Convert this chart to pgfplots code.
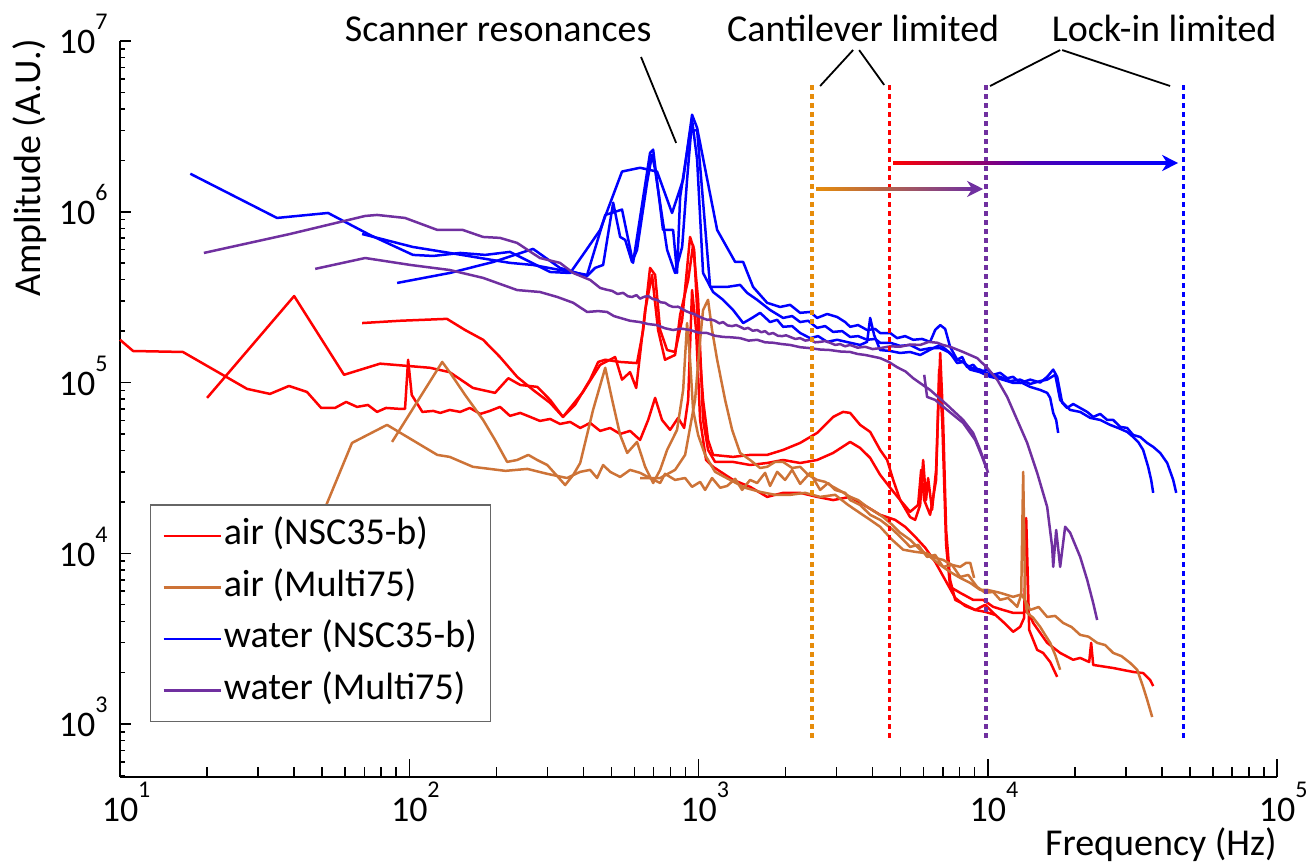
\documentclass[border=0pt]{standalone}
\usepackage{fontspec}
\setmainfont{Carlito}
\usepackage{pgfplots}
\pgfplotsset{compat=1.18}
\usetikzlibrary{arrows.meta}

\definecolor{airred}{RGB}{255,0,0}
\definecolor{airmulti}{RGB}{205,115,55}
\definecolor{wblue}{RGB}{0,0,255}
\definecolor{wpurple}{RGB}{112,48,160}
\definecolor{dotorange}{RGB}{230,140,10}

\newcommand\lbl{\fontsize{19bp}{22bp}\selectfont}
\newcommand\tkf{\fontsize{18bp}{20bp}\selectfont}
\newcommand\ex[1]{\raisebox{12bp}{\fontsize{12bp}{12bp}\selectfont #1}}

\begin{document}
\begin{tikzpicture}
\begin{axis}[
  name=ax, at={(0,0)}, anchor=south west,
  scale only axis, width=578.5bp, height=368bp,
  xmode=log, ymode=log,
  xmin=10, xmax=1e5, ymin=490, ymax=1e7,
  axis x line*=bottom, axis y line*=left,
  axis line style={line width=1bp, black},
  tick align=inside,
  tick style={line width=0.75bp, black},
  xtick style={/pgfplots/major tick length=9bp, /pgfplots/minor tick length=5bp},
  ytick style={/pgfplots/major tick length=5.5bp, /pgfplots/minor tick length=2.5bp},
  xtick={10,100,1000,10000,100000},
  xticklabels={{10\rlap{\ex{1}}},{10\rlap{\ex{2}}},{10\rlap{\ex{3}}},{10\rlap{\ex{4}}},{10\rlap{\ex{5}}}},
  minor xtick={20,30,40,50,60,70,80,90,200,300,400,500,600,700,800,900,2000,3000,4000,5000,6000,7000,8000,9000,20000,30000,40000,50000,60000,70000,80000,90000},
  ytick={1000,10000,100000,1000000,10000000},
  yticklabels={{10\ex{3}},{10\ex{4}},{10\ex{5}},{10\ex{6}},{10\ex{7}}},
  minor ytick={500,600,700,800,900,2000,3000,4000,5000,6000,7000,8000,9000,20000,30000,40000,50000,60000,70000,80000,90000,200000,300000,400000,500000,600000,700000,800000,900000,2000000,3000000,4000000,5000000,6000000,7000000,8000000,9000000},
  xticklabel style={font=\tkf, anchor=base, inner sep=0pt, yshift=-22.5bp},
  yticklabel style={font=\tkf, anchor=base east, inner sep=0pt, xshift=-6bp, yshift=-6.4bp},
  clip=false,
  legend cell align=left,
  legend image code/.code={\draw[#1, line width=1.1bp] (0bp,0bp) -- (28.5bp,0bp);},
  legend style={at={(rel axis cs:0.0259,0.0747)}, anchor=south west,
    draw=black!60, line width=0.6bp, fill=white, font=\lbl,
    inner sep=6bp, row sep=6.75bp,
    nodes={inner sep=1bp, text height=13bp, text depth=4bp}},
  dat/.style={line width=1.25bp, line join=round, forget plot},
]
\addlegendimage{airred}\addlegendentry{air (NSC35-b)}
\addlegendimage{airmulti}\addlegendentry{air (Multi75)}
\addlegendimage{wblue}\addlegendentry{water (NSC35-b)}
\addlegendimage{wpurple}\addlegendentry{water (Multi75)}

% ---- air NSC35-b
\addplot[dat, airred] coordinates {
(10,1.78e5)(11.1,1.53e5)(16.5,1.51e5)(27.5,9.18e4)(33,8.58e4)(38.4,9.55e4)(44.3,8.81e4)(49.6,7.1e4)(55.4,7.1e4)(60.5,7.7e4)(66,7.2e4)(72,7.39e4)(77.4,6.73e4)(83.1,7.1e4)(92.9,7.01e4)(96.7,7.01e4)(99.1,1.36e5)(102,8.46e4)(111,6.73e4)(121,6.82e4)(128,6.64e4)(138,6.91e4)(150,6.73e4)(162,7.1e4)(176,6.55e4)(190,6.82e4)(206,7.2e4)(223,6.38e4)(242,6.64e4)(262,6.29e4)(283,5.96e4)(307,6.12e4)(332,5.72e4)(360,5.88e4)(390,5.42e4)(422,5.8e4)(457,5.21e4)(495,5.42e4)(536,5.0e4)(580,5.21e4)(628,4.61e4)(670,6.04e4)(708,8.13e4)(748,6.04e4)(798,5.28e4)(850,6.21e4)(892,5.42e4)(921,7.91e4)(950,3.48e5)(981,2.03e5)(1013,6.04e4)(1062,3.52e4)(1123,3.21e4)(1317,2.69e4)(1508,2.45e4)(1727,2.14e4)(1961,2.26e4)(2246,2.26e4)(2571,2.14e4)(2920,2.05e4)(3344,2.14e4)(3828,1.87e4)(4246,1.68e4)(4784,1.57e4)(5180,1.43e4)(5610,1.25e4)(6075,1.08e4)(6580,8.91e3)(7125,6.99e3)(7720,5.48e3)(8350,4.92e3)(9050,4.66e3)(9800,4.54e3)(10610,4.36e3)
};
\addplot[dat, airred] coordinates {
(20,8.13e4)(40,3.21e5)(59.5,1.11e5)(79.3,1.29e5)(118,1.22e5)(138,1.15e5)(166,9.3e4)(198,8.7e4)(220,1.06e5)(242,9.68e4)(277,9.43e4)(307,7.91e4)(340,6.29e4)(399,8.81e4)(457,1.27e5)(515,1.41e5)(544,1.04e5)(580,1.15e5)(609,9.3e4)(654,2.66e5)(691,4.27e5)(725,2.03e5)(766,1.36e5)(830,1.45e5)(864,2.49e5)(921,3.99e5)(958,6.39e5)(997,3.05e5)(1037,6.04e4)(1079,4.03e4)(1141,3.43e4)(1317,3.43e4)(1508,3.29e4)(1727,3.38e4)(1961,3.52e4)(2246,3.38e4)(2571,3.52e4)(2920,3.87e4)(3344,4.49e4)(3621,4.14e4)(3922,3.62e4)(4246,2.88e4)(4600,2.42e4)(4980,2.05e4)(5390,1.75e4)(5745,1.92e4)(5885,3.08e4)(6030,2.05e4)(6320,1.68e4)(6630,2.69e4)(6790,1.19e5)(6960,6.04e4)(7180,1.12e4)(7410,6.36e3)(8030,5.87e3)(8900,5.34e3)(9640,5.34e3)(10440,4.86e3)(11300,4.66e3)(12240,4.48e3)(13260,4.48e3)(13690,4.66e3)(14360,3.91e3)(16050,2.99e3)(17800,2.61e3)(19740,2.38e3)(20870,2.44e3)(22420,2.31e3)(22780,2.99e3)(23150,2.22e3)(27140,2.13e3)(31830,2.02e3)(34460,1.99e3)(36440,1.81e3)(37330,1.67e3)
};
\addplot[dat, airred] coordinates {
(68.7,2.23e5)(92.9,2.30e5)(135,2.36e5)(156,2.03e5)(180,1.78e5)(206,1.41e5)(236,1.08e5)(268,9.05e4)(307,7.6e4)(340,6.29e4)(374,7.39e4)(422,1.04e5)(450,1.32e5)(476,1.36e5)(536,1.32e5)(613,1.30e5)(644,2.03e5)(680,4.69e5)(708,4.27e5)(737,2.03e5)(779,1.55e5)(830,1.51e5)(878,2.33e5)(935,7.12e5)(966,5.98e5)(997,2.03e5)(1037,7.91e4)(1079,4.61e4)(1123,3.77e4)(1317,3.67e4)(1508,3.77e4)(1727,3.77e4)(1961,4.03e4)(2246,4.43e4)(2571,5.07e4)(2920,6.29e4)(3162,6.73e4)(3344,6.64e4)(3621,5.65e4)(3922,5.14e4)(4246,4.03e4)(4490,3.52e4)(4710,2.69e4)(4980,2.05e4)(5390,1.63e4)(5610,1.57e4)(5840,1.92e4)(5980,3.52e4)(6120,2.05e4)(6220,2.76e4)(6420,1.8e4)(6630,3.08e4)(6850,1.49e5)(7010,6.04e4)(7180,1.37e4)(7410,6.99e3)(7720,5.34e3)(8350,4.99e3)(9050,4.66e3)(9800,4.99e3)(10440,4.48e3)(11300,3.97e3)(12240,3.47e3)(12940,3.71e3)(13360,4.19e3)(13580,1.61e4)(13910,3.56e3)(14820,2.72e3)(15540,2.61e3)(16440,2.31e3)(17380,1.89e3)
};

% ---- air Multi75
\addplot[dat, airmulti] coordinates {
(48.4,1.47e4)(52,1.97e4)(63.4,4.43e4)(83.8,5.65e4)(125,3.77e4)(138,3.67e4)(166,3.21e4)(215,3.04e4)(256,3.12e4)(300,2.92e4)(351,2.76e4)(390,3.0e4)(422,3.08e4)(446,2.76e4)(468,3.29e4)(495,3.0e4)(536,2.8e4)(580,3.08e4)(628,2.96e4)(680,2.76e4)(737,2.58e4)(766,2.92e4)(830,2.69e4)(899,2.76e4)(950,2.45e4)(1013,2.62e4)(1054,2.35e4)(1114,2.76e4)(1188,2.42e4)(1256,2.48e4)(1339,2.73e4)(1415,2.35e4)(1508,2.69e4)(1595,2.58e4)(1699,2.96e4)(1768,2.48e4)(1870,3.0e4)(1993,2.69e4)(2107,3.08e4)(2246,2.55e4)(2432,2.96e4)(2633,2.35e4)(2806,2.58e4)(2968,2.35e4)(3214,2.26e4)(3344,2.05e4)(3621,1.92e4)(3922,1.68e4)(4246,1.57e4)(4710,1.37e4)(5100,1.20e4)(5390,1.09e4)(5745,1.12e4)(6170,9.53e3)(6580,9.79e3)(7010,8.33e3)(7530,8.55e3)(8030,7.27e3)(8560,7.47e3)(9190,6.36e3)(9800,5.87e3)(10440,5.94e3)(11040,5.34e3)(11760,5.48e3)(12640,4.86e3)(13050,5.71e3)(13260,3.0e4)(13470,5.34e3)(13690,4.48e3)(14360,4.19e3)(15180,3.71e3)(15790,3.33e3)(16440,2.99e3)(17110,2.54e3)(17800,2.08e3)
};
\addplot[dat, airmulti] coordinates {
(87.2,4.49e4)(130,1.32e5)(138,1.15e5)(156,8.46e4)(180,6.04e4)(198,4.61e4)(218,3.43e4)(236,3.52e4)(258,3.77e4)(277,3.52e4)(300,3.29e4)(322,2.88e4)(346,2.51e4)(369,2.88e4)(390,3.38e4)(432,6.91e4)(476,1.22e5)(503,7.91e4)(536,4.93e4)(567,3.87e4)(613,4.49e4)(654,3.21e4)(697,2.58e4)(737,3.08e4)(779,4.03e4)(843,5.28e4)(885,9.05e4)(913,2.23e5)(935,1.36e5)(958,6.91e4)(997,4.93e4)(1054,3.77e4)(1141,3.0e4)(1286,2.69e4)(1449,2.42e4)(1633,2.29e4)(1840,2.20e4)(2074,2.20e4)(2337,2.26e4)(2633,2.14e4)(2968,2.20e4)(3290,1.92e4)(3621,1.72e4)(3922,1.57e4)(4246,1.43e4)(4670,1.20e4)(5100,1.05e4)(5610,1.02e4)(6170,1.0e4)(6580,9.40e3)(7010,9.15e3)(7530,8.55e3)(8030,8.33e3)(8420,8.79e3)(8700,8.79e3)(8970,7.18e3)
};
\addplot[dat, airmulti] coordinates {
(628,2.76e4)(737,2.76e4)(830,3.08e4)(899,3.77e4)(973,7.91e4)(1013,1.78e5)(1037,2.66e5)(1079,3.05e5)(1114,2.03e5)(1160,1.36e5)(1236,7.91e4)(1307,5.28e4)(1393,3.87e4)(1508,3.52e4)(1633,3.16e4)(1727,3.21e4)(1840,3.43e4)(1961,3.43e4)(2107,3.16e4)(2246,3.21e4)(2393,2.88e4)(2571,2.69e4)(2740,2.62e4)(2920,2.45e4)(3138,2.29e4)(3344,2.14e4)(3564,2.05e4)(3828,1.87e4)(4080,1.75e4)(4350,1.63e4)(4670,1.47e4)(4980,1.32e4)(5390,1.20e4)(5840,1.05e4)(6320,9.53e3)(6850,8.55e3)(7410,7.78e3)(8030,7.18e3)(8700,6.71e3)(9415,6.11e3)(9960,6.11e3)(11040,5.87e3)(12240,5.56e3)(13100,5.75e3)(14020,4.66e3)(15000,4.85e3)(16050,4.24e3)(17100,4.30e3)(18230,3.91e3)(19500,3.70e3)(20870,3.33e3)(22300,3.25e3)(23890,2.99e3)(25500,2.90e3)(27140,2.61e3)(29000,2.50e3)(31080,2.28e3)(32860,2.08e3)(34460,1.65e3)(35570,1.39e3)(37030,1.10e3)
};

% ---- water NSC35-b
\addplot[dat, wblue] coordinates {
(17.5,1.67e6)(34.9,9.2e5)(52.4,9.84e5)(73.2,7.31e5)(103,5.59e5)(121,5.51e5)(150,5.74e5)(183,5.59e5)(223,5.82e5)(262,5.08e5)(307,4.44e5)(360,4.38e5)(405,5.82e5)(457,7.83e5)(544,1.72e6)(628,1.81e6)(719,1.72e6)(810,9.84e5)(885,1.54e6)(950,3.70e6)(989,3.10e6)(1160,7.83e5)(1339,5.08e5)(1427,5.08e5)(1544,3.63e5)(1727,2.93e5)(1915,2.77e5)(2074,2.85e5)(2246,2.56e5)(2432,2.59e5)(2571,2.39e5)(2785,2.52e5)(3016,2.42e5)(3214,2.26e5)(3344,2.12e5)(3564,2.17e5)(3828,2.03e5)(4080,2.06e5)(4246,1.95e5)(4600,1.95e5)(4860,1.82e5)(5180,1.87e5)(5525,1.78e5)(5930,1.80e5)(6320,1.73e5)(6580,2.03e5)(6850,2.17e5)(7125,2.06e5)(7410,1.62e5)(7840,1.36e5)(8155,1.41e5)(8490,1.23e5)(8900,1.27e5)(9415,1.15e5)(9960,1.19e5)(10440,1.11e5)(11040,1.14e5)(11670,1.06e5)(12240,1.08e5)(12940,9.95e4)(14020,1.04e5)(15180,1.0e5)(16050,1.08e5)(16840,1.19e5)(17380,1.08e5)(18090,7.6e4)(18820,7.1e4)(19740,7.49e4)(20870,7.1e4)(22070,6.73e4)(23150,6.29e4)(24470,6.55e4)(25880,6.04e4)(27140,6.04e4)(28700,5.5e4)(30340,5.42e4)(31830,4.93e4)(33650,4.8e4)(35570,4.43e4)(37330,4.2e4)(39470,3.87e4)(41730,3.38e4)(43770,2.69e4)(44830,2.26e4)
};
\addplot[dat, wblue] coordinates {
(68.7,7.41e5)(103,6.22e5)(138,5.74e5)(176,5.36e5)(223,5.02e5)(268,4.88e5)(332,4.56e5)(412,4.27e5)(476,9.58e5)(544,1.03e6)(594,5.02e5)(680,2.21e6)(697,2.31e6)(754,7.83e5)(817,7.83e5)(843,4.38e5)(864,1.22e6)(935,2.94e6)(989,3.02e6)(1097,3.63e5)(1256,3.63e5)(1393,3.73e5)(1473,3.35e5)(1595,3.05e5)(1768,2.66e5)(1961,2.39e5)(2107,2.45e5)(2246,2.26e5)(2393,2.30e5)(2571,2.09e5)(2740,2.14e5)(2920,1.98e5)(3138,2.0e5)(3344,1.85e5)(3564,1.87e5)(3828,1.78e5)(4080,1.80e5)(4246,1.71e5)(4600,1.71e5)(4980,1.64e5)(5390,1.66e5)(5840,1.55e5)(6320,1.59e5)(6850,1.59e5)(7300,1.51e5)(7840,1.36e5)(8220,1.32e5)(8700,1.22e5)(9415,1.19e5)(10190,1.11e5)(11040,1.08e5)(11950,1.02e5)(12940,1.04e5)(14020,9.81e4)(15180,1.02e5)(16050,1.04e5)(17110,1.11e5)(17800,7.91e4)(19270,6.91e4)(20870,6.73e4)(22600,6.21e4)(24470,6.04e4)(26500,5.65e4)(28240,5.42e4)(30340,5.14e4)(31830,4.80e4)(33110,4.49e4)(34460,4.03e4)(35860,3.21e4)(36730,2.69e4)(37330,2.26e4)
};
\addplot[dat, wblue] coordinates {
(90.8,3.83e5)(138,4.38e5)(195,5.08e5)(268,6.06e5)(332,4.69e5)(412,4.21e5)(439,4.69e5)(468,4.88e5)(507,1.13e6)(536,7.12e5)(558,6.84e5)(589,5.08e5)(613,5.98e5)(664,1.48e6)(691,2.16e6)(708,1.76e6)(779,5.98e5)(830,4.38e5)(878,6.22e5)(913,1.54e6)(950,3.46e6)(989,2.02e6)(1037,4.38e5)(1123,3.39e5)(1216,3.05e5)(1317,2.66e5)(1427,2.23e5)(1532,2.39e5)(1633,2.56e5)(1768,2.26e5)(1870,2.33e5)(1961,2.12e5)(2107,2.14e5)(2246,1.95e5)(2432,1.82e5)(2592,1.87e5)(2785,1.73e5)(3016,1.78e5)(3344,1.71e5)(3621,1.66e5)(3828,1.73e5)(3922,2.39e5)(4047,1.90e5)(4246,1.55e5)(4600,1.53e5)(4980,1.49e5)(5390,1.51e5)(5840,1.45e5)(6475,1.59e5)(6850,1.66e5)(7410,1.49e5)(7840,1.30e5)(8220,1.32e5)(8700,1.19e5)(9415,1.15e5)(10190,1.08e5)(11040,1.05e5)(12240,9.95e4)(13150,9.95e4)(14020,9.43e4)(15180,9.05e4)(16050,8.70e4)(16440,8.13e4)(16840,6.64e4)(17240,6.04e4)(17520,5.07e4)
};

% ---- water Multi75
\addplot[dat, wpurple] coordinates {
(19.5,5.74e5)(38.7,7.41e5)(70.4,9.45e5)(77.4,9.58e5)(96.7,9.2e5)(125,7.83e5)(153,7.83e5)(180,7.12e5)(206,7.03e5)(236,6.57e5)(283,5.36e5)(332,5.02e5)(369,4.38e5)(422,3.99e5)(457,3.58e5)(480,3.50e5)(503,3.44e5)(525,3.30e5)(549,3.35e5)(570,3.20e5)(589,3.17e5)(610,3.25e5)(628,3.10e5)(650,3.18e5)(670,3.21e5)(695,3.08e5)(719,3.05e5)(740,2.95e5)(766,2.93e5)(790,2.83e5)(817,2.77e5)(850,2.78e5)(878,2.70e5)(905,2.62e5)(935,2.56e5)(965,2.52e5)(997,2.45e5)(1035,2.38e5)(1071,2.33e5)(1105,2.34e5)(1141,2.30e5)(1180,2.22e5)(1216,2.26e5)(1260,2.16e5)(1307,2.14e5)(1350,2.17e5)(1393,2.12e5)(1440,2.06e5)(1484,2.09e5)(1540,2.01e5)(1595,2.03e5)(1650,1.97e5)(1699,2.0e5)(1750,1.92e5)(1811,1.95e5)(1880,1.88e5)(1945,1.87e5)(2010,1.89e5)(2074,1.85e5)(2160,1.80e5)(2246,1.82e5)(2340,1.76e5)(2432,1.78e5)(2530,1.72e5)(2633,1.73e5)(2740,1.75e5)(2851,1.71e5)(2970,1.66e5)(3089,1.68e5)(3210,1.63e5)(3344,1.66e5)(3550,1.60e5)(3769,1.62e5)(4000,1.57e5)(4246,1.59e5)(4600,1.63e5)(4980,1.62e5)(5400,1.67e5)(5840,1.66e5)(6250,1.73e5)(6690,1.71e5)(7000,1.66e5)(7410,1.62e5)(8220,1.51e5)(9190,1.39e5)(9960,1.22e5)(10780,1.04e5)(11670,8.24e4)(12640,6.04e4)(13690,4.43e4)(14820,2.96e4)(16050,1.87e4)(16700,1.09e4)(16840,8.33e3)(17240,1.37e4)(17800,8.33e3)(18520,1.43e4)(19270,1.32e4)(20870,9.53e3)(22070,6.99e3)(23150,5.12e3)(23890,4.07e3)
};
\addplot[dat, wpurple] coordinates {
(47.3,4.63e5)(70.4,5.36e5)(101,4.88e5)(138,4.56e5)(180,4.10e5)(236,3.48e5)(283,3.39e5)(325,3.17e5)(369,2.93e5)(412,2.59e5)(450,2.62e5)(483,2.59e5)(510,2.45e5)(536,2.39e5)(580,2.30e5)(628,2.26e5)(670,2.20e5)(719,2.17e5)(765,2.08e5)(817,2.03e5)(870,2.07e5)(935,2.03e5)(1000,1.96e5)(1071,1.95e5)(1140,1.88e5)(1216,1.85e5)(1300,1.84e5)(1393,1.82e5)(1490,1.76e5)(1595,1.78e5)(1700,1.72e5)(1811,1.71e5)(1940,1.68e5)(2074,1.66e5)(2250,1.61e5)(2432,1.59e5)(2640,1.56e5)(2851,1.55e5)(3090,1.52e5)(3344,1.51e5)(3550,1.47e5)(3769,1.45e5)(4000,1.42e5)(4246,1.39e5)(4550,1.32e5)(4860,1.23e5)(5200,1.16e5)(5525,1.06e5)(5900,9.8e4)(6320,9.05e4)(6750,8.2e4)(7240,7.39e4)(7700,6.7e4)(8220,6.04e4)(8900,5.07e4)(9415,4.03e4)(9960,3.08e4)
};
\addplot[dat, wpurple] coordinates {
(6030,1.11e5)(6170,8.24e4)(6580,7.91e4)(7240,6.91e4)(8220,5.8e4)(9050,4.61e4)(9565,3.67e4)(10030,2.96e4)
};

% ---- limits
\draw[dotorange, line width=1.7bp, dash pattern=on 2.5bp off 2bp] (axis cs:2471,830) -- (axis cs:2471,5.52e6);
\draw[airred, line width=1.7bp, dash pattern=on 2.5bp off 2bp] (axis cs:4573,830) -- (axis cs:4573,5.52e6);
\draw[wpurple, line width=1.7bp, dash pattern=on 2.5bp off 2bp] (axis cs:9850,830) -- (axis cs:9850,5.52e6);
\draw[wblue, line width=1.7bp, dash pattern=on 2.5bp off 2bp] (axis cs:47500,830) -- (axis cs:47500,5.52e6);

\shade[left color=dotorange, right color=wpurple] (axis cs:2551,1.34e6) rectangle (axis cs:9000,1.38e6);
\draw[wpurple, line width=1.4bp, -{Stealth[length=8bp,width=8bp,inset=2.5bp]}] (axis cs:8500,1.36e6) -- (axis cs:9640,1.36e6);
\shade[left color=airred, right color=wblue, middle color=wblue!70!airred] (axis cs:4710,1.90e6) rectangle (axis cs:43000,1.96e6);
\draw[wblue, line width=1.4bp, -{Stealth[length=8bp,width=8bp,inset=2.5bp]}] (axis cs:40000,1.93e6) -- (axis cs:45530,1.93e6);

% ---- annotations
\draw[black, line width=0.9bp] (axis cs:633,8.06e6) -- (axis cs:837,2.53e6);
\node[anchor=base, font=\lbl] at (axis cs:203,9.87e6) {Scanner resonances};
\draw[black, line width=0.9bp] (axis cs:3424,8.85e6) -- (axis cs:2633,5.45e6);
\draw[black, line width=0.9bp] (axis cs:3592,8.85e6) -- (axis cs:4384,5.53e6);
\node[anchor=base, font=\lbl] at (axis cs:3710,9.87e6) {Cantilever limited};
\draw[black, line width=0.9bp] (axis cs:17800,8.85e6) -- (axis cs:10190,5.45e6);
\draw[black, line width=0.9bp] (axis cs:18090,8.85e6) -- (axis cs:42720,5.45e6);
\node[anchor=base, font=\lbl] at (axis cs:40740,9.87e6) {Lock-in limited};

\node[rotate=90, anchor=base, font=\lbl] at (rel axis cs:-0.06914,0.8274) {Amplitude (A.U.)};
\node[anchor=base east, font=\lbl, inner sep=0pt] at (rel axis cs:1,-0.1060) {Frequency (Hz)};
\end{axis}
\pgfresetboundingbox
\path[use as bounding box] (ax.south west) ++(-60bp,-43bp) rectangle ++(656bp,431.5bp);
\end{tikzpicture}
\end{document}
